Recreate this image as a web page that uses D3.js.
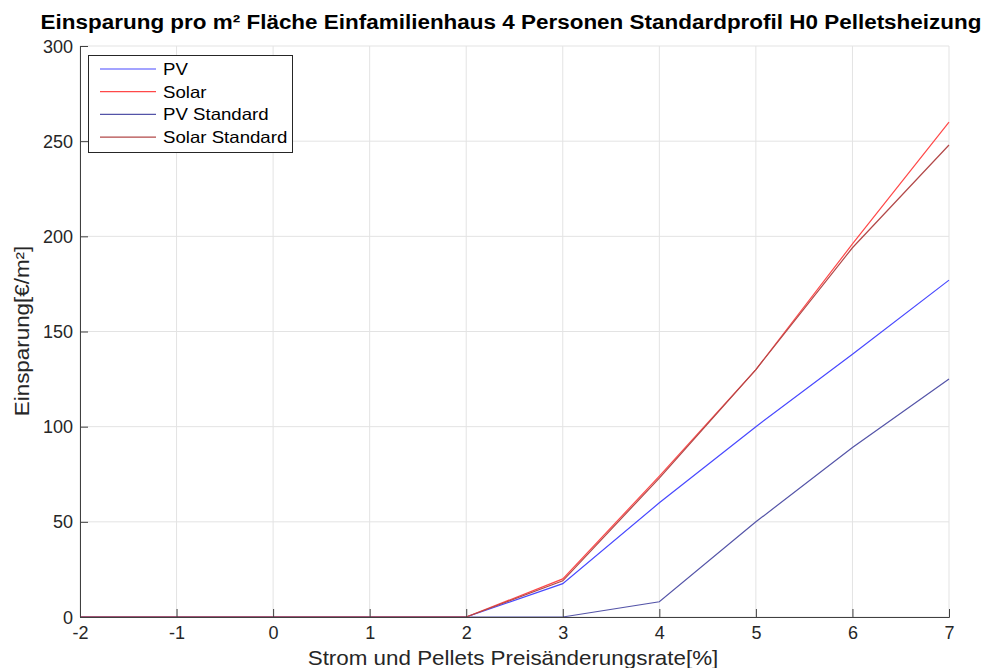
<!DOCTYPE html>
<html><head><meta charset="utf-8">
<script src="https://cdn.jsdelivr.net/npm/d3@7/dist/d3.min.js"></script>
<style>body{margin:0;background:#fff}svg{display:block;font-family:"Liberation Sans",Arial,sans-serif}</style>
</head><body><svg id="c" width="985" height="668"></svg>
<script>
const rates = [-2, -1, 0, 1, 2, 3, 4, 5, 6, 7];
const pv = [0, 0, 0, 0, 0, 17.5, 60, 100, 138, 177];
const solar = [0, 0, 0, 0, 0, 20, 74, 130, 196, 260];
const pvStandard = [0, 0, 0, 0, 0, 0, 8, 50, 89, 125];
const solarStandard = [0, 0, 0, 0, 0, 19, 73, 130, 194, 248];
const seriesNames = ["PV", "Solar", "PV Standard", "Solar Standard"];
const seriesColors = ["#4848ff", "#ff4848", "#5454a8", "#b24848"];
const xTicks = [-2, -1, 0, 1, 2, 3, 4, 5, 6, 7];
const yTicks = [0, 50, 100, 150, 200, 250, 300];
const title = "Einsparung pro m² Fläche Einfamilienhaus 4 Personen Standardprofil H0 Pelletsheizung";
const xLabel = "Strom und Pellets Preisänderungsrate[%]";
const yLabel = "Einsparung[€/m²]";

const svg = d3.select("#c");
const L = 80, R = 949, T = 46, B = 617;
const x = d3.scaleLinear().domain([-2, 7]).range([L, R]);
const y = d3.scaleLinear().domain([0, 300]).range([B, T]);
const FONT = "'Liberation Sans',Arial,sans-serif";

// horizontally stretched text helper (keeps real text)
function stretchText(parent, txt, px, py, size, fx, anchor, weight, rot) {
  const gg = parent.append("g").attr("transform", `translate(${px},${py})` + (rot ? ` rotate(${rot})` : "") + ` scale(${fx},1)`);
  return gg.append("text").attr("x", 0).attr("y", 0).attr("text-anchor", anchor)
    .style("font-size", size + "px").style("font-weight", weight || "normal")
    .style("font-family", FONT).text(txt);
}

// grid
const g = svg.append("g");
g.selectAll(".gx").data(xTicks).join("line")
  .attr("x1", d => x(d)).attr("x2", d => x(d)).attr("y1", T).attr("y2", B)
  .attr("stroke", "#e3e3e3").attr("stroke-width", 1);
g.selectAll(".gy").data(yTicks).join("line")
  .attr("x1", L).attr("x2", R).attr("y1", d => y(d)).attr("y2", d => y(d))
  .attr("stroke", "#e3e3e3").attr("stroke-width", 1);

// lines
const allSeries = [pv, solar, pvStandard, solarStandard];
const line = d3.line().x((d, i) => x(rates[i])).y(d => y(d));
allSeries.forEach((s, k) => {
  svg.append("path").datum(s).attr("d", line)
    .attr("fill", "none").attr("stroke", seriesColors[k]).attr("stroke-width", 1.2);
});

// axes
const xAxis = d3.axisBottom(x).tickValues(xTicks).tickSize(-8).tickPadding(9).tickFormat(d => String(d));
const yAxis = d3.axisLeft(y).tickValues(yTicks).tickSize(-8).tickPadding(7).tickFormat(d => String(d));
const gx = svg.append("g").attr("transform", `translate(0,${B})`).call(xAxis);
const gy = svg.append("g").attr("transform", `translate(${L},0)`).call(yAxis);
[gx, gy].forEach(a => {
  a.select(".domain").attr("stroke", "#404040").attr("stroke-width", 1);
  a.selectAll(".tick line").attr("stroke", "#404040");
  a.selectAll(".tick text").attr("fill", "#262626").style("font-size", "18px").style("font-family", FONT);
});
gy.selectAll(".tick text").attr("dy", "0.34em");

// title & labels
stretchText(svg, title, 511, 28.5, 21, 1.07, "middle", "bold").attr("fill", "#000");
stretchText(svg, xLabel, 513, 665, 20, 1.12, "middle").attr("fill", "#262626");
stretchText(svg, yLabel, 29, 331, 20, 1.12, "middle", "normal", -90).attr("fill", "#262626");

// legend
const lg = svg.append("g");
lg.append("rect").attr("x", 88.5).attr("y", 55.5).attr("width", 204).attr("height", 97)
  .attr("fill", "#fff").attr("stroke", "#262626").attr("stroke-width", 1);
seriesNames.forEach((n, k) => {
  const yy = 69 + k * 22.7;
  lg.append("line").attr("x1", 100).attr("x2", 156).attr("y1", yy).attr("y2", yy)
    .attr("stroke", seriesColors[k]).attr("stroke-width", 1.2);
  stretchText(lg, n, 163, yy + 6, 16.5, 1.13, "start").attr("fill", "#000");
});
</script></body></html>
